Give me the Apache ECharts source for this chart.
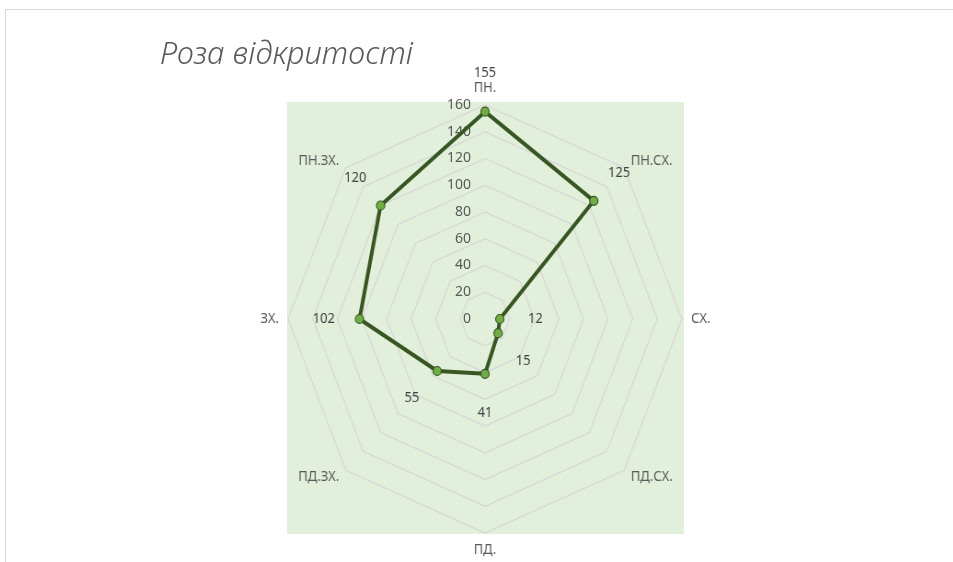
<!DOCTYPE html>
<html lang="uk">
<head>
  <meta charset="UTF-8">
  <title>Роза відкритості</title>
  <style>
    body { margin: 0; padding: 0; background: #fff; overflow: hidden; }
    .layer { position: absolute; left: 0; top: 0; width: 953px; height: 562px; }
    /* Excel draws this radar squeezed sideways, so the radar layer is scaled on x */
    #radar { transform: scaleX(0.92); transform-origin: 485px 50%; }
  </style>
  <script src="https://cdn.jsdelivr.net/npm/echarts@6/dist/echarts.min.js"></script>
</head>
<body>
  <div id="base" class="layer"></div>
  <div id="radar" class="layer"></div>

  <script>
    // directions, clockwise from north
    const directions = ['ПН.', 'ПН.СХ.', 'СХ.', 'ПД.СХ.', 'ПД.', 'ПД.ЗХ.', 'ЗХ.', 'ПН.ЗХ.'];
    const openness = [155, 125, 12, 15, 41, 55, 102, 120];
    const scaleTicks = [0, 20, 40, 60, 80, 100, 120, 140, 160];

    const textColor = '#595959';
    const labelPush = 29; // data labels sit a bit outside their points

    // echarts radar runs counter-clockwise, so flip the order after north
    const order = [0, 7, 6, 5, 4, 3, 2, 1];
    const indicators = order.map(i => ({ name: directions[i], min: 0, max: 160 }));
    const values = order.map(i => openness[i]);

    // base layer: frame, plot background, title and scale labels
    const base = echarts.init(document.getElementById('base'));
    base.setOption({
      animation: false,
      title: {
        text: 'Роза відкритості',
        left: 155,
        top: 35,
        textStyle: {
          fontFamily: 'Noto Sans',
          fontStyle: 'italic',
          fontWeight: 300,
          fontSize: 31,
          color: textColor
        }
      },
      graphic: [
        { type: 'line', shape: { x1: 5.5, y1: 9.5, x2: 953, y2: 9.5 }, style: { stroke: '#d9d9d9', lineWidth: 1 } },
        { type: 'line', shape: { x1: 5.5, y1: 9.5, x2: 5.5, y2: 562 }, style: { stroke: '#d9d9d9', lineWidth: 1 } },
        { type: 'rect', z: -10, shape: { x: 287, y: 102, width: 397, height: 432 }, style: { fill: '#e2efda' } }
      ],
      grid: { left: 478, top: 105, width: 10, height: 214 },
      xAxis: { type: 'value', show: false },
      yAxis: {
        type: 'value',
        min: scaleTicks[0],
        max: scaleTicks[scaleTicks.length - 1],
        interval: 20,
        axisLine: { show: false },
        axisTick: { show: false },
        splitLine: { show: false },
        axisLabel: {
          margin: 7,
          color: textColor,
          fontFamily: 'Noto Sans',
          fontSize: 14
        }
      },
      series: []
    });

    // radar layer
    const chart = echarts.init(document.getElementById('radar'));
    chart.setOption({
      animation: false,
      radar: {
        center: [485, 319],
        radius: 214,
        startAngle: 90,
        shape: 'polygon',
        splitNumber: 8,
        indicator: indicators,
        axisName: {
          color: textColor,
          fontFamily: 'Noto Sans',
          fontSize: 14
        },
        nameGap: 10,
        axisLine: { show: false },
        axisTick: { show: false },
        axisLabel: { show: false },
        splitArea: { show: false },
        splitLine: { lineStyle: { color: '#d6d6d6', width: 1.2 } }
      },
      series: [
        {
          type: 'radar',
          z: 3,
          symbol: 'circle',
          symbolSize: 9,
          lineStyle: { color: '#375623', width: 4 },
          itemStyle: { color: '#70ad47', borderColor: '#375623', borderWidth: 1.2 },
          data: [{ value: values }]
        },
        {
          // carries the value labels only
          type: 'radar',
          z: 4,
          symbol: 'circle',
          symbolSize: 0,
          lineStyle: { opacity: 0 },
          itemStyle: { color: 'transparent' },
          label: {
            show: true,
            position: 'inside',
            color: '#404040',
            fontFamily: 'Noto Sans',
            fontSize: 14,
            formatter: p => String(p.value - labelPush)
          },
          data: [{ value: values.map(v => v + labelPush) }]
        }
      ]
    });
  </script>
</body>
</html>
